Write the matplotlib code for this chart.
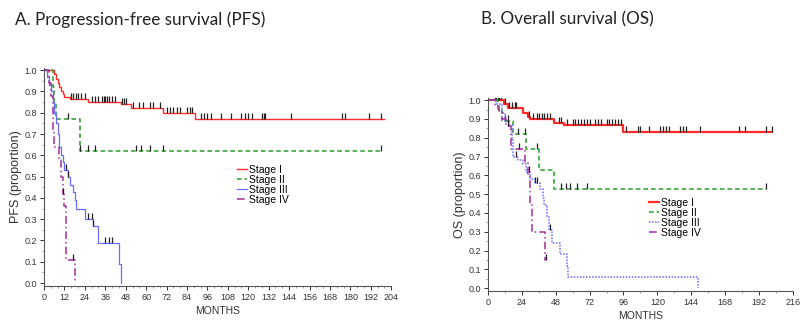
import numpy as np
import matplotlib
matplotlib.use("Agg")
import matplotlib.pyplot as plt
from matplotlib.ticker import MultipleLocator

# ---- A. PFS (months, survival proportion after each step) ----
pfs1_t = [0, 6, 7, 8, 9, 10, 11, 12, 15, 26, 45, 51, 70, 89]
pfs1_s = [1.0, 0.98, 0.96, 0.94, 0.92, 0.90, 0.89, 0.875, 0.865, 0.85, 0.84, 0.82, 0.80, 0.77]
pfs1_end = 200
pfs1_cens = [16, 17, 19, 20, 22, 24, 28, 30, 32, 34, 35, 36, 37, 38, 40, 42, 46, 47, 48,
             52, 56, 58, 62, 64, 68, 72, 74, 76, 78, 80, 84, 86, 87, 92, 94, 96, 98,
             104, 110, 116, 118, 120, 122, 128, 129, 130, 145, 175, 177, 191, 198]

pfs2_t = [0, 5, 6, 7, 21]
pfs2_s = [1.0, 0.92, 0.85, 0.77, 0.62]
pfs2_end = 198
pfs2_cens = [14, 21, 26, 30, 54, 57, 62, 70, 198]

pfs3_t = [0, 2, 3, 4, 5, 6, 7, 8, 9, 10, 11, 12, 14, 15, 17, 18, 19, 24, 29, 32, 44, 45]
pfs3_s = [1.0, 0.97, 0.93, 0.90, 0.85, 0.80, 0.75, 0.70, 0.64, 0.60, 0.57, 0.53, 0.50,
          0.46, 0.43, 0.39, 0.35, 0.30, 0.27, 0.19, 0.09, 0.0]
pfs3_end = 45
pfs3_cens = [13, 14, 26, 28, 29, 36, 38, 40]

pfs4_t = [0, 3, 4, 5, 5.5, 6, 9, 10, 11, 12, 13, 18]
pfs4_s = [1.0, 0.94, 0.88, 0.80, 0.72, 0.64, 0.58, 0.50, 0.42, 0.36, 0.11, 0.0]
pfs4_end = 18
pfs4_cens = [11, 17]

# ---- B. OS ----
os1_t = [0, 11, 14, 25, 28, 30, 47, 54, 96]
os1_s = [1.0, 0.98, 0.96, 0.93, 0.91, 0.90, 0.88, 0.87, 0.83]
os1_end = 201
os1_cens = [5, 6, 7, 8, 9, 12, 15, 17, 19, 20, 29, 32, 35, 36, 38, 40, 42, 44, 50, 52, 56,
            60, 62, 64, 66, 68, 70, 72, 76, 78, 80, 84, 86, 88, 90, 92, 94, 98, 106, 108,
            114, 122, 124, 126, 128, 136, 138, 140, 150, 178, 182, 197, 201]

os2_t = [0, 7, 10, 18, 27, 36, 47]
os2_s = [1.0, 0.95, 0.89, 0.82, 0.74, 0.63, 0.53]
os2_end = 197
os2_cens = [12, 21, 26, 35, 52, 55, 58, 63, 70, 197]

os3_t = [0, 6, 10, 12, 15, 17, 18, 21, 25, 27, 30, 33, 37, 39, 40, 42, 43, 45, 51, 56, 57, 149]
os3_s = [1.0, 0.98, 0.93, 0.89, 0.87, 0.80, 0.70, 0.68, 0.66, 0.62, 0.58, 0.56, 0.53, 0.48,
         0.44, 0.38, 0.31, 0.24, 0.18, 0.12, 0.06, 0.0]
os3_end = 149
os3_cens = [14, 20, 29, 33, 35, 44]

os4_t = [0, 5, 8, 10, 13, 16, 26, 28, 30, 31.5, 40.5]
os4_s = [1.0, 0.97, 0.94, 0.90, 0.86, 0.74, 0.67, 0.60, 0.45, 0.30, 0.15]
os4_end = 41
os4_cens = [14, 22, 41]

labels = ["Stage I", "Stage II", "Stage III", "Stage IV"]
RED, GREEN, BLUE, PURPLE = "#ff2a2a", "#2a9e2a", "#6a6aff", "#a0309a"


def surv_at(t_list, s_list, x):
    idx = np.searchsorted(t_list, x, side="right") - 1
    return s_list[max(idx, 0)]


def km(ax, t, s, end, cens, color, ls, lw, label):
    xs = list(t) + [end]
    ys = list(s) + [s[-1]]
    ax.plot(xs, ys, drawstyle="steps-post", color=color, ls=ls, lw=lw, label=label)
    cy = [surv_at(t, s, c) for c in cens]
    # censor ticks sit on top of the curve
    ax.plot(cens, cy, ls="none", marker=2, color="#222222", ms=4, mew=0.9)


def style(ax, xmax, xmaj, xmin, ylab):
    for sp in ("top", "right"):
        ax.spines[sp].set_visible(False)
    for sp in ("left", "bottom"):
        ax.spines[sp].set_color("#555555")
        ax.spines[sp].set_linewidth(0.8)
    ax.set_xlim(0, xmax)
    ax.set_ylim(-0.014, 1.01)
    ax.xaxis.set_major_locator(MultipleLocator(xmaj))
    ax.xaxis.set_minor_locator(MultipleLocator(xmin))
    ax.yaxis.set_minor_locator(MultipleLocator(0.05))
    ax.set_yticks(np.round(np.arange(0, 1.01, 0.1), 1))
    ax.yaxis.set_major_formatter(matplotlib.ticker.FormatStrFormatter("%.1f"))
    ax.tick_params(labelsize=6.5, colors="#333333", length=3, width=0.7, pad=2)
    ax.tick_params(which="minor", length=1.5, width=0.5, colors="#777777")
    ax.set_xlabel("MONTHS", fontsize=7.5, color="#333333", labelpad=3)
    ax.set_ylabel(ylab, fontsize=9, color="#333333", labelpad=2)


plt.rcParams["font.family"] = ["Liberation Sans", "DejaVu Sans"]
fig = plt.figure(figsize=(8, 3.21), dpi=100)

ax1 = fig.add_axes([0.055, 0.109, 0.434, 0.679])
km(ax1, pfs1_t, pfs1_s, pfs1_end, pfs1_cens, RED, "-", 1.0, labels[0])
km(ax1, pfs2_t, pfs2_s, pfs2_end, pfs2_cens, GREEN, (0, (3, 2)), 1.1, labels[1])
km(ax1, pfs3_t, pfs3_s, pfs3_end, pfs3_cens, BLUE, "-", 0.9, labels[2])
km(ax1, pfs4_t, pfs4_s, pfs4_end, pfs4_cens, PURPLE, (0, (5, 2, 1, 2)), 1.1, labels[3])
style(ax1, 204, 12, 4, "PFS (proportion)")
ax1.legend(loc="upper left", bbox_to_anchor=(0.54, 0.58), frameon=False, fontsize=7.5,
           handlelength=1.0, handletextpad=0.2, labelspacing=0.0, borderpad=0)

ax2 = fig.add_axes([0.61, 0.094, 0.381, 0.600])
km(ax2, os1_t, os1_s, os1_end, os1_cens, RED, "-", 1.6, labels[0])
km(ax2, os2_t, os2_s, os2_end, os2_cens, GREEN, (0, (3, 2)), 1.1, labels[1])
km(ax2, os3_t, os3_s, os3_end, os3_cens, BLUE, (0, (1, 1)), 1.1, labels[2])
km(ax2, os4_t, os4_s, os4_end, os4_cens, PURPLE, (0, (5, 2, 1, 2)), 1.1, labels[3])
style(ax2, 216, 24, 12, "OS (proportion)")
ax2.legend(loc="upper left", bbox_to_anchor=(0.51, 0.51), frameon=False, fontsize=7.5,
           handlelength=1.0, handletextpad=0.2, labelspacing=0.0, borderpad=0)

fig.text(0.019, 0.965, "A. Progression-free survival (PFS)", fontsize=12.3,
         family=["Lato", "DejaVu Sans"], color="#222222", va="top")
fig.text(0.601, 0.965, "B. Overall survival (OS)", fontsize=12.3,
         family=["Lato", "DejaVu Sans"], color="#222222", va="top")

fig.savefig("out.png", dpi=100)
